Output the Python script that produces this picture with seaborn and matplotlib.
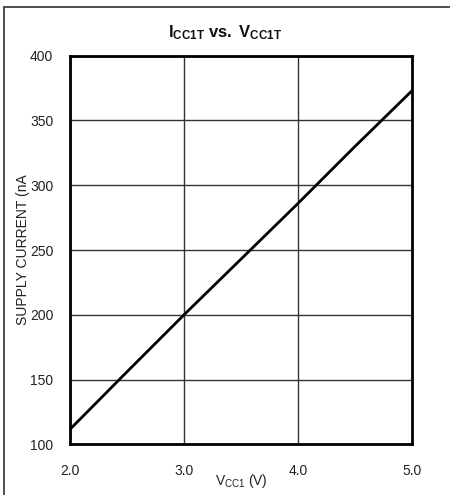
import matplotlib
matplotlib.use("Agg")
import matplotlib.pyplot as plt
import seaborn as sns
import pandas as pd
from matplotlib.lines import Line2D

vcc = [2.0, 2.5, 2.75, 3.0, 3.5, 4.0, 4.5, 5.0]
icc = [111.6, 156, 178, 200, 243, 286, 330, 373]
x_ticks = [2.0, 3.0, 4.0, 5.0]
x_tick_labels = ["2.0", "3.0", "4.0", "5.0"]
y_ticks = [100, 150, 200, 250, 300, 350, 400]

sns.set_style("white")
plt.rcParams['font.family'] = ['Liberation Sans', 'DejaVu Sans']
plt.rcParams['mathtext.fontset'] = 'custom'
plt.rcParams['mathtext.rm'] = 'Liberation Sans'
plt.rcParams['mathtext.it'] = 'Liberation Sans'
plt.rcParams['mathtext.bf'] = 'Liberation Sans:bold'

fig = plt.figure(figsize=(4.5, 4.95), dpi=100)
ax = fig.add_axes([0.1556, 0.1024, 0.76, 0.785])

df = pd.DataFrame({"V": vcc, "I": icc})
sns.lineplot(data=df, x="V", y="I", ax=ax, color="black", linewidth=2.0, zorder=3)

ax.set_xlim(2.0, 5.0)
ax.set_ylim(100, 400)
ax.set_xticks(x_ticks)
ax.set_xticklabels(x_tick_labels)
ax.set_yticks(y_ticks)
ax.grid(True, color="#333333", linewidth=1.0)
ax.tick_params(axis="both", length=0, labelsize=10, colors="#222222")
ax.tick_params(axis="x", pad=14)
ax.tick_params(axis="y", pad=12)
for s in ax.spines.values():
    s.set_visible(True)
    s.set_color("black")
    s.set_linewidth(2.0)

ax.set_xlabel(r"V$_{\mathrm{CC1}}$ (V)", fontsize=10, color="#222222")
ax.set_ylabel("SUPPLY CURRENT (nA", fontsize=10, color="#222222")
ax.yaxis.set_label_coords(-0.117, 0.5)
ax.xaxis.set_label_coords(0.5, -0.072)

fig.text(0.5, 0.935, r"$\mathbf{I_{CC1T}\ vs.\ V_{CC1T}}$",
         ha="center", va="center", fontsize=12, color="#111111")

# outer frame
fig.add_artist(Line2D([4/450, 1.0], [1-7/495, 1-7/495], transform=fig.transFigure,
                      color="#404040", linewidth=1.3))
fig.add_artist(Line2D([4/450, 4/450], [1-7/495, 0.0], transform=fig.transFigure,
                      color="#404040", linewidth=1.3))

fig.savefig("out.png", dpi=100)
